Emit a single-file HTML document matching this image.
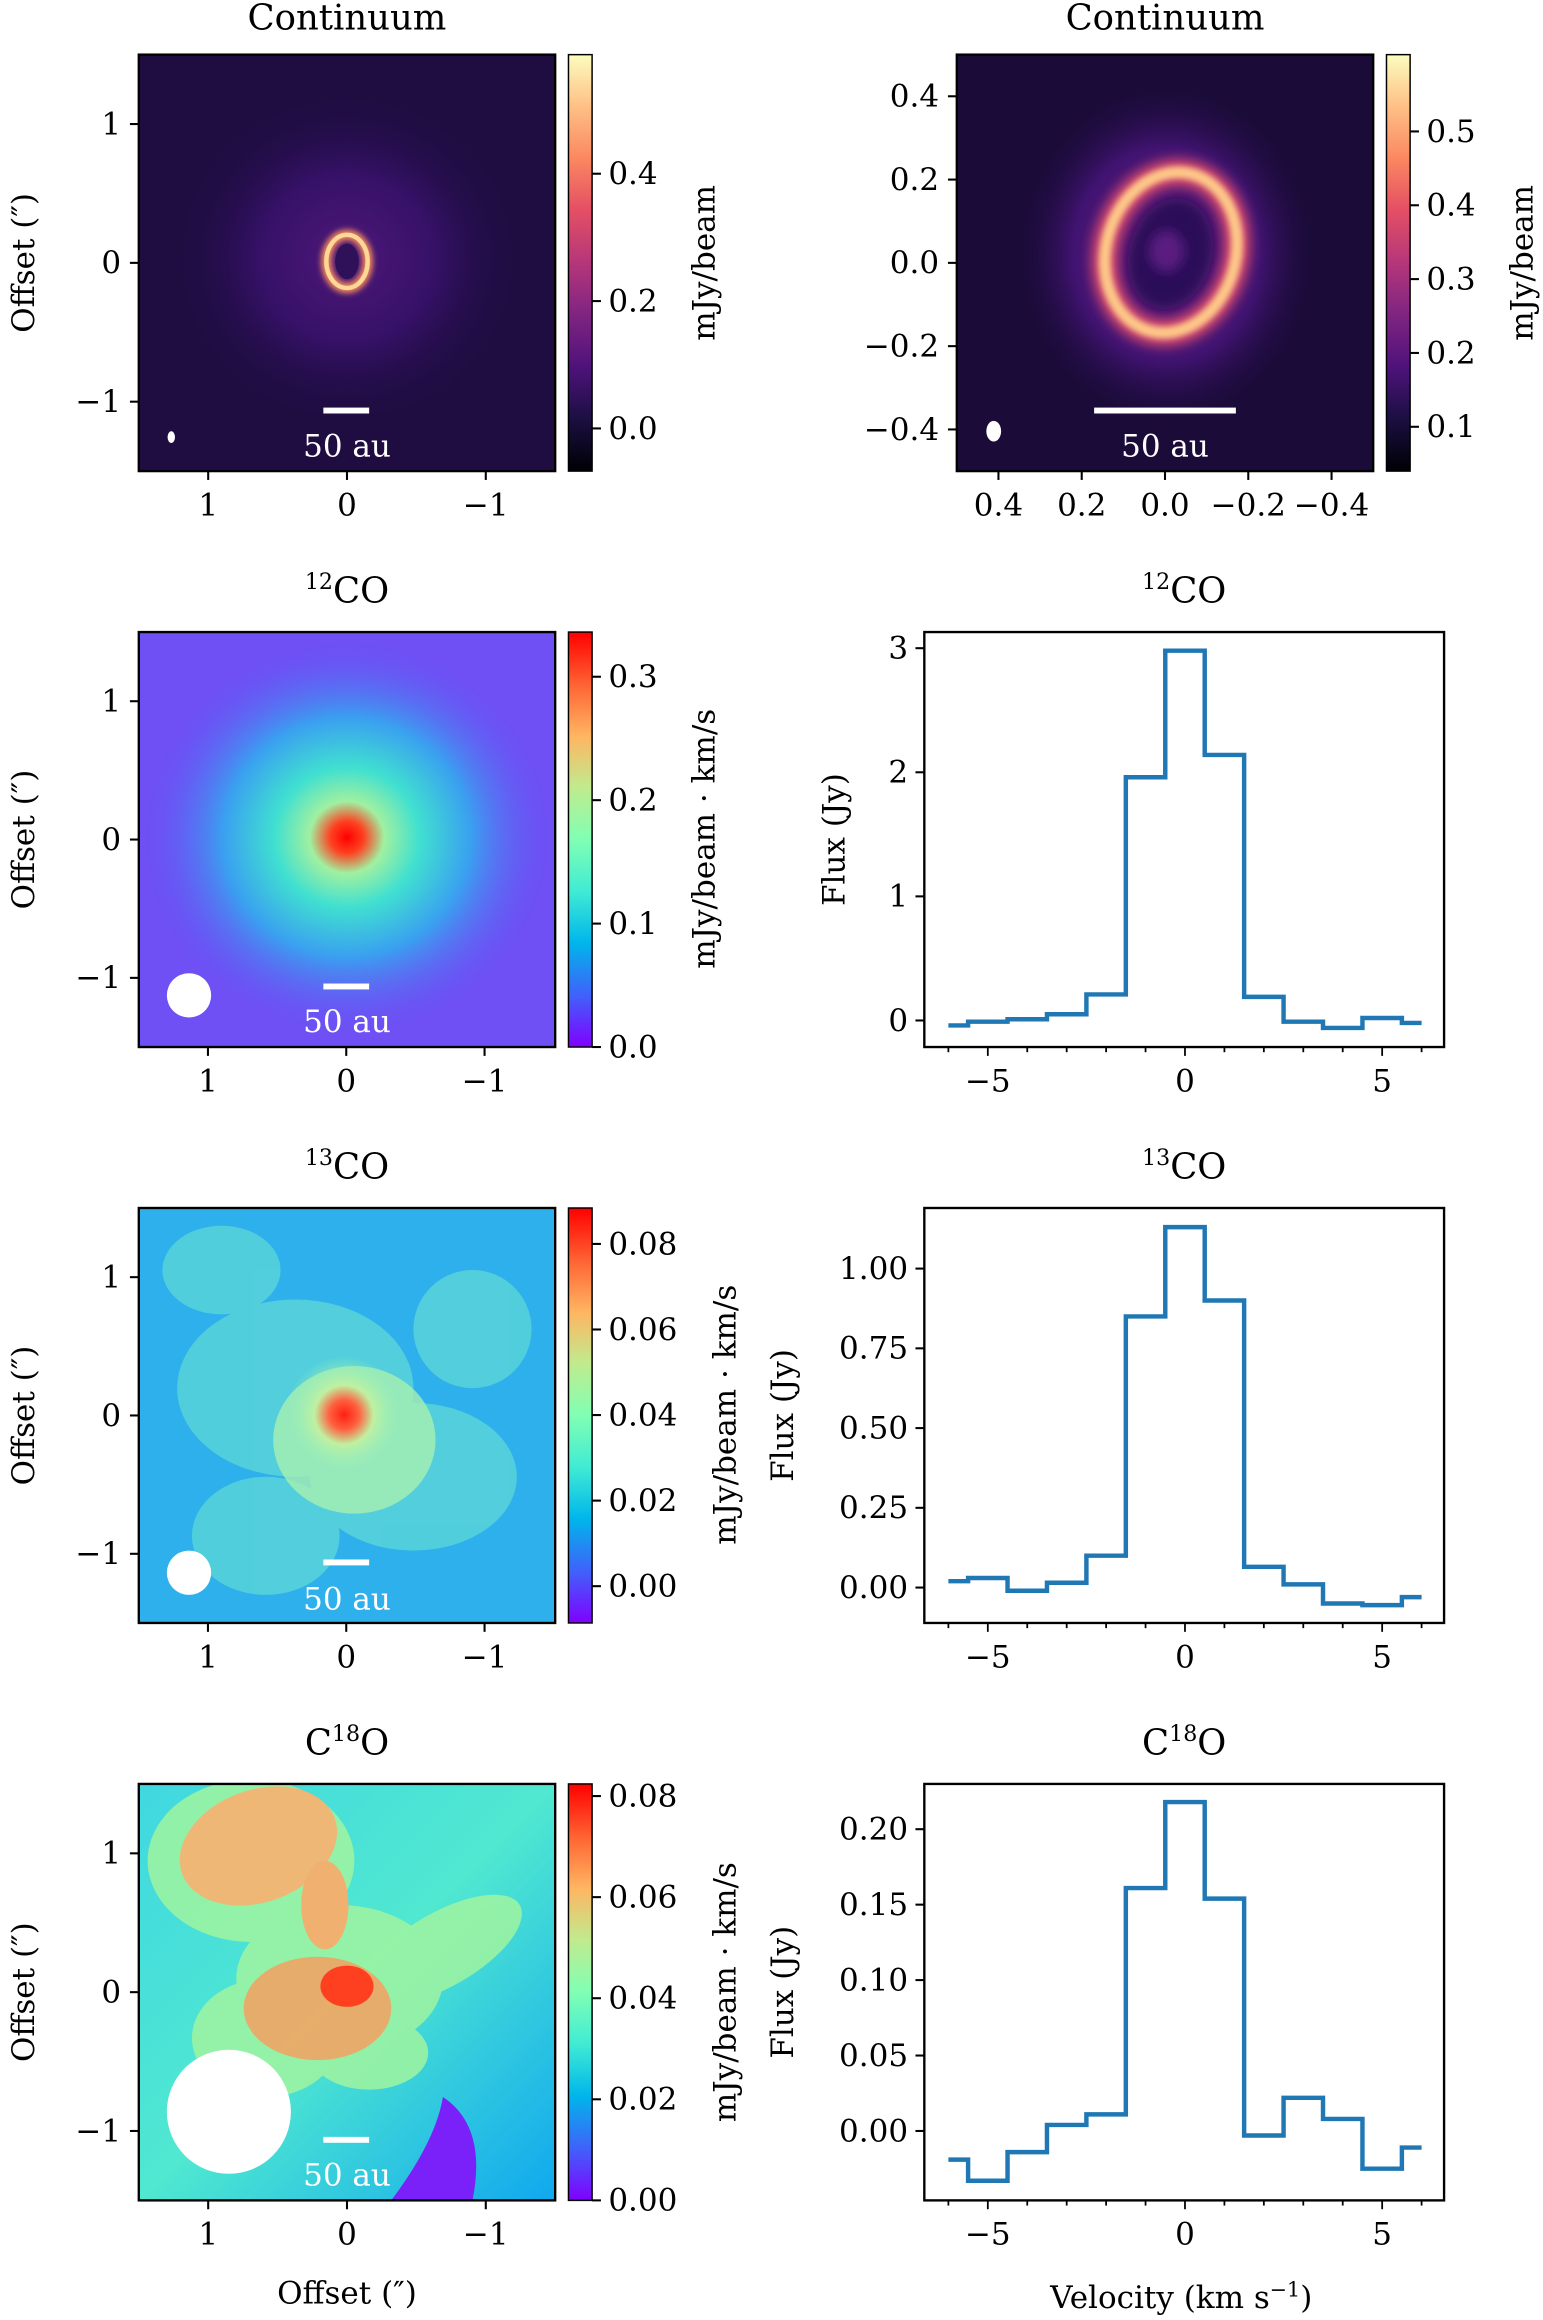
<!DOCTYPE html>
<html><head><meta charset="utf-8">
<style>
html,body{margin:0;padding:0;background:#fff;}
svg{display:block;}
text{font-family:"DejaVu Serif","Liberation Serif",serif;fill:#000;}
.tk{font-size:21px;}
.ttl{font-size:24px;}
.lab{font-size:21px;}
</style></head>
<body>
<svg id="fig" width="1543" height="2320" viewBox="0 0 1045 1571" preserveAspectRatio="none" xmlns="http://www.w3.org/2000/svg">
<defs>
  <linearGradient id="magma" x1="0" y1="1" x2="0" y2="0">
    <stop offset="0" stop-color="#000004"/><stop offset=".13" stop-color="#1c1044"/><stop offset=".25" stop-color="#4f127b"/>
    <stop offset=".38" stop-color="#812581"/><stop offset=".5" stop-color="#b5367a"/><stop offset=".63" stop-color="#e55064"/>
    <stop offset=".75" stop-color="#fb8761"/><stop offset=".88" stop-color="#fec287"/><stop offset="1" stop-color="#fcfdbf"/>
  </linearGradient>
  <linearGradient id="rainbow" x1="0" y1="1" x2="0" y2="0">
    <stop offset="0" stop-color="#8000ff"/><stop offset=".125" stop-color="#4062fa"/><stop offset=".25" stop-color="#00b5eb"/>
    <stop offset=".375" stop-color="#40ebd4"/><stop offset=".5" stop-color="#80ffb4"/><stop offset=".625" stop-color="#c0eb8e"/>
    <stop offset=".75" stop-color="#ffb562"/><stop offset=".875" stop-color="#ff6232"/><stop offset="1" stop-color="#ff0000"/>
  </linearGradient>
  <radialGradient id="c1glow"><stop offset="0" stop-color="#5a1a88"/><stop offset=".5" stop-color="#3b1270"/><stop offset="1" stop-color="#1e0c40" stop-opacity="0"/></radialGradient>
  <radialGradient id="c2glow"><stop offset="0" stop-color="#7a2285"/><stop offset=".6" stop-color="#451478"/><stop offset="1" stop-color="#1a0b38" stop-opacity="0"/></radialGradient>
  <radialGradient id="co12g"><stop offset="0" stop-color="#ff0000"/><stop offset=".08" stop-color="#ff4020"/><stop offset=".18" stop-color="#a0f0a0"/><stop offset=".35" stop-color="#40e0d0"/><stop offset=".6" stop-color="#3aa0f0"/><stop offset="1" stop-color="#6a4cf6" stop-opacity="0"/></radialGradient>
  <radialGradient id="co13g"><stop offset="0" stop-color="#ff2010"/><stop offset=".25" stop-color="#ff6040"/><stop offset=".5" stop-color="#c0f0a0"/><stop offset="1" stop-color="#90f0c0" stop-opacity="0"/></radialGradient>
  <linearGradient id="c18bg" x1="0" y1="0" x2="1" y2="1"><stop offset="0" stop-color="#40d8e0"/><stop offset=".5" stop-color="#50e8d0"/><stop offset="1" stop-color="#10a8ee"/></linearGradient>
  <filter id="b2" x="-50%" y="-50%" width="200%" height="200%"><feGaussianBlur stdDeviation="2"/></filter>
  <filter id="b4" x="-50%" y="-50%" width="200%" height="200%"><feGaussianBlur stdDeviation="4"/></filter>
  <clipPath id="cp1"><rect x="94" y="37" width="282" height="282"/></clipPath>
  <clipPath id="cp2"><rect x="648" y="37" width="282" height="282"/></clipPath>
  <clipPath id="cp3"><rect x="94" y="428" width="282" height="281"/></clipPath>
  <clipPath id="cp4"><rect x="94" y="818" width="282" height="281"/></clipPath>
  <clipPath id="cp5"><rect x="94" y="1208" width="282" height="282"/></clipPath>
</defs>

<!-- Continuum 1 -->
<g>
<text class="ttl" x="235" y="20" text-anchor="middle">Continuum</text>
<g clip-path="url(#cp1)">
<rect x="94" y="37" width="282" height="282" fill="#1f0d42"/>
<ellipse cx="235" cy="175" rx="120" ry="115" fill="url(#c1glow)" opacity=".8"/>
<ellipse cx="235" cy="177" rx="14" ry="18" fill="none" stroke="#f48a5c" stroke-width="7" filter="url(#b2)"/>
<ellipse cx="235" cy="177" rx="14" ry="18" fill="none" stroke="#fdd896" stroke-width="3"/>
<ellipse cx="235" cy="177" rx="8" ry="12" fill="#2e1158"/>
<ellipse cx="116" cy="296" rx="2.5" ry="4" fill="#fff"/>
<rect x="219" y="276" width="31" height="4" fill="#fff"/>
<text x="235" y="309" text-anchor="middle" class="tk" style="fill:#fff">50 au</text>
</g>
<rect x="94" y="37" width="282" height="282" fill="none" stroke="#000" stroke-width="1.6"/>
</g>

<!-- Continuum 2 -->
<g>
<text class="ttl" x="789" y="20" text-anchor="middle">Continuum</text>
<g clip-path="url(#cp2)">
<rect x="648" y="37" width="282" height="282" fill="#1a0b38"/>
<ellipse cx="790" cy="172" rx="105" ry="120" fill="url(#c2glow)" opacity=".9"/>
<ellipse cx="793" cy="171" rx="44" ry="55" fill="none" stroke="#d84a6e" stroke-width="18" filter="url(#b4)" transform="rotate(15 793 171)"/>
<ellipse cx="793" cy="171" rx="44" ry="55" fill="none" stroke="#fdc888" stroke-width="8" filter="url(#b2)" transform="rotate(15 793 171)"/>
<ellipse cx="793" cy="172" rx="28" ry="38" fill="#2a0f58" filter="url(#b4)" transform="rotate(15 793 171)"/>
<ellipse cx="790" cy="170" rx="12" ry="14" fill="#5a1a80" filter="url(#b4)"/>
<ellipse cx="673" cy="292" rx="5" ry="7" fill="#fff"/>
<rect x="741" y="276" width="96" height="4" fill="#fff"/>
<text x="789" y="309" text-anchor="middle" class="tk" style="fill:#fff">50 au</text>
</g>
<rect x="648" y="37" width="282" height="282" fill="none" stroke="#000" stroke-width="1.6"/>
</g>

<!-- 12CO map -->
<g>
<text class="ttl" x="235" y="408" text-anchor="middle"><tspan font-size="15" dy="-9">12</tspan><tspan dy="9">CO</tspan></text>
<g clip-path="url(#cp3)">
<rect x="94" y="428" width="282" height="281" fill="#6e50f4"/>
<ellipse cx="235" cy="567" rx="140" ry="135" fill="url(#co12g)"/>
<circle cx="128" cy="674" r="15" fill="#fff"/>
<rect x="219" y="666" width="31" height="4" fill="#fff"/>
<text x="235" y="699" text-anchor="middle" class="tk" style="fill:#fff">50 au</text>
</g>
<rect x="94" y="428" width="282" height="281" fill="none" stroke="#000" stroke-width="1.6"/>
</g>

<!-- 13CO map -->
<g>
<text class="ttl" x="235" y="798" text-anchor="middle"><tspan font-size="15" dy="-9">13</tspan><tspan dy="9">CO</tspan></text>
<g clip-path="url(#cp4)">
<rect x="94" y="818" width="282" height="281" fill="#2eb0ec"/>
<g opacity=".55" fill="#70e8d0">
<ellipse cx="200" cy="940" rx="80" ry="60"/><ellipse cx="280" cy="1000" rx="70" ry="50"/><ellipse cx="150" cy="860" rx="40" ry="30"/>
<ellipse cx="320" cy="900" rx="40" ry="40"/><ellipse cx="180" cy="1040" rx="50" ry="40"/>
</g>
<ellipse cx="240" cy="975" rx="55" ry="50" fill="#a8f0b0" opacity=".8"/>
<ellipse cx="233" cy="958" rx="40" ry="40" fill="url(#co13g)"/>
<circle cx="128" cy="1065" r="15" fill="#fff"/>
<rect x="219" y="1056" width="31" height="4" fill="#fff"/>
<text x="235" y="1090" text-anchor="middle" class="tk" style="fill:#fff">50 au</text>
</g>
<rect x="94" y="818" width="282" height="281" fill="none" stroke="#000" stroke-width="1.6"/>
</g>

<!-- C18O map -->
<g>
<text class="ttl" x="235" y="1188" text-anchor="middle">C<tspan font-size="15" dy="-9">18</tspan><tspan dy="9">O</tspan></text>
<g clip-path="url(#cp5)">
<rect x="94" y="1208" width="282" height="282" fill="url(#c18bg)"/>
<g fill="#a0f5a0" opacity=".85">
<ellipse cx="170" cy="1260" rx="70" ry="55"/><ellipse cx="230" cy="1340" rx="70" ry="50"/><ellipse cx="300" cy="1320" rx="60" ry="25" transform="rotate(-30 300 1320)"/>
<ellipse cx="180" cy="1380" rx="50" ry="40"/><ellipse cx="250" cy="1390" rx="40" ry="25"/>
</g>
<ellipse cx="175" cy="1250" rx="55" ry="38" fill="#f8b070" opacity=".9" transform="rotate(-20 175 1250)"/>
<ellipse cx="220" cy="1290" rx="16" ry="30" fill="#f0b070"/>
<ellipse cx="215" cy="1360" rx="50" ry="35" fill="#f4a060" opacity=".85"/>
<ellipse cx="235" cy="1345" rx="18" ry="14" fill="#ff4020"/>
<path d="M300 1420 Q330 1440 320 1490 L265 1490 Q295 1450 300 1420Z" fill="#7a20f8"/>
<ellipse cx="155" cy="1430" rx="42" ry="42" fill="#fff"/>
<rect x="219" y="1447" width="31" height="4" fill="#fff"/>
<text x="235" y="1480" text-anchor="middle" class="tk" style="fill:#fff">50 au</text>
</g>
<rect x="94" y="1208" width="282" height="282" fill="none" stroke="#000" stroke-width="1.6"/>
</g>

<!-- colorbars -->
<rect x="385" y="37" width="16" height="282" fill="url(#magma)" stroke="#000" stroke-width="1"/>
<rect x="939" y="37" width="16" height="282" fill="url(#magma)" stroke="#000" stroke-width="1"/>
<rect x="385" y="428" width="16" height="281" fill="url(#rainbow)" stroke="#000" stroke-width="1"/>
<rect x="385" y="818" width="16" height="281" fill="url(#rainbow)" stroke="#000" stroke-width="1"/>
<rect x="385" y="1208" width="16" height="282" fill="url(#rainbow)" stroke="#000" stroke-width="1"/>

<text class="lab" transform="translate(484 178) rotate(-90)" text-anchor="middle">mJy/beam</text>
<text class="lab" transform="translate(1038 178) rotate(-90)" text-anchor="middle">mJy/beam</text>
<text class="lab" transform="translate(484 568) rotate(-90)" text-anchor="middle">mJy/beam · km/s</text>
<text class="lab" transform="translate(498 958) rotate(-90)" text-anchor="middle">mJy/beam · km/s</text>
<text class="lab" transform="translate(498 1349) rotate(-90)" text-anchor="middle">mJy/beam · km/s</text>

<g id="axes"></g>
<g id="spectra"></g>

<text class="lab" x="235" y="1560" text-anchor="middle">Offset (″)</text>
<text class="lab" x="800" y="1563" text-anchor="middle">Velocity (km s<tspan font-size="14" dy="-8">−1</tspan><tspan dy="8">)</tspan></text>
</svg>

<script>
const NS = "http://www.w3.org/2000/svg";
const velocities = [-6,-5,-4,-3,-2,-1,0,1,2,3,4,5,6];
const flux12 = [-0.04,-0.01,0.01,0.05,0.21,1.96,2.98,2.14,0.19,-0.01,-0.06,0.02,-0.02];
const flux13 = [0.02,0.03,-0.01,0.015,0.10,0.85,1.13,0.90,0.065,0.01,-0.05,-0.055,-0.03];
const flux18 = [-0.019,-0.033,-0.014,0.004,0.011,0.161,0.218,0.154,-0.003,0.022,0.008,-0.025,-0.011];
const ticks12 = ["0","1","2","3"];
const ticks13 = ["0.00","0.25","0.50","0.75","1.00"];
const ticks18 = ["0.00","0.05","0.10","0.15","0.20"];
const velTicks = ["−5","0","5"];
const offTicks = ["1","0","−1"];
const contZoomTicks = ["0.4","0.2","0.0","−0.2","−0.4"];
const cbCont1 = ["0.0","0.2","0.4"];
const cbCont2 = ["0.1","0.2","0.3","0.4","0.5"];
const cbCO12 = ["0.0","0.1","0.2","0.3"];
const cbCO13 = ["0.00","0.02","0.04","0.06","0.08"];
const cbC18 = ["0.00","0.02","0.04","0.06","0.08"];

const axesG = document.getElementById('axes');
const specG = document.getElementById('spectra');
function mk(tag, attrs, parent){const e=document.createElementNS(NS,tag);for(const k in attrs)e.setAttribute(k,attrs[k]);parent.appendChild(e);return e;}
function txt(x,y,s,anchor,parent){const t=mk('text',{x:x,y:y,'text-anchor':anchor,class:'tk'},parent);t.textContent=s;return t;}
function num(s){return parseFloat(s.replace('−','-'));}

function imgAxes(x0,y0,size,xt,yt,xmin,xmax,ymin,ymax,ylabel){
  const sx=v=>x0+(xmax-v)/(xmax-xmin)*size;
  const sy=v=>y0+(ymax-v)/(ymax-ymin)*size;
  xt.forEach(s=>{const v=num(s),x=sx(v);
    mk('line',{x1:x,x2:x,y1:y0+size,y2:y0+size+6,stroke:'#000','stroke-width':1.4},axesG);
    const t=txt(x,y0+size+30,s,'middle',axesG);
    
    });
  yt.forEach(s=>{const v=num(s),y=sy(v);
    mk('line',{x1:x0-6,x2:x0,y1:y,y2:y,stroke:'#000','stroke-width':1.4},axesG);
    const t=txt(x0-12,y+7,s,'end',axesG);
    
    });
  if(ylabel){const t=mk('text',{transform:`translate(${x0-71} ${y0+size/2}) rotate(-90)`,'text-anchor':'middle',class:'lab'},axesG);t.textContent=ylabel;
    
    }
}
imgAxes(94,37,282,offTicks,offTicks,-1.5,1.5,-1.5,1.5,'Offset (″)');
imgAxes(94,428,281,offTicks,offTicks,-1.5,1.5,-1.5,1.5,'Offset (″)');
imgAxes(94,818,281,offTicks,offTicks,-1.5,1.5,-1.5,1.5,'Offset (″)');
imgAxes(94,1208,282,offTicks,offTicks,-1.5,1.5,-1.5,1.5,'Offset (″)');
imgAxes(648,37,282,contZoomTicks,contZoomTicks,-0.5,0.5,-0.5,0.5,null);

function cbTicks(x0,y0,h,labels,vmin,vmax){
  labels.forEach(s=>{const v=num(s),y=y0+(vmax-v)/(vmax-vmin)*h;
    mk('line',{x1:x0+16,x2:x0+22,y1:y,y2:y,stroke:'#000','stroke-width':1.4},axesG);
    const t=txt(x0+27,y+7,s,'start',axesG);
    
    });
}
cbTicks(385,37,282,cbCont1,-0.067,0.587);
cbTicks(939,37,282,cbCont2,0.04,0.604);
cbTicks(385,428,281,cbCO12,0.0,0.3362);
cbTicks(385,818,281,cbCO13,-0.0086,0.0884);
cbTicks(385,1208,282,cbC18,0.0,0.0824);

function spectrum(y0,h,vals,yt,ymin,ymax,name,title,ylabX){
  const x0=626,w=352,xmin=-6.61,xmax=6.57;
  const sx=v=>x0+(v-xmin)/(xmax-xmin)*w;
  const sy=v=>y0+(ymax-v)/(ymax-ymin)*h;
  const g=mk('g',{},specG);
  
  
  mk('rect',{x:x0,y:y0,width:w,height:h,fill:'none',stroke:'#000','stroke-width':1.6},g);
  for(let v=-6;v<=6;v++){const x=sx(v),major=(v%5===0);
    mk('line',{x1:x,x2:x,y1:y0+h,y2:y0+h+(major?6:3.5),stroke:'#000','stroke-width':1.2},g);}
  velTicks.forEach(s=>{const t=txt(sx(num(s)),y0+h+30,s,'middle',g);
    
    });
  yt.forEach(s=>{const y=sy(num(s));
    mk('line',{x1:x0-6,x2:x0,y1:y,y2:y,stroke:'#000','stroke-width':1.4},g);
    const t=txt(x0-11,y+7,s,'end',g);
    
    });
  let d='';
  for(let i=0;i<velocities.length;i++){
    const xl = i===0?sx(velocities[0]):sx((velocities[i-1]+velocities[i])/2);
    const xr = i===velocities.length-1?sx(velocities[i]):sx((velocities[i]+velocities[i+1])/2);
    const y=sy(vals[i]);
    d += (i===0?'M':'L')+xl+' '+y+' L'+xr+' '+y+' ';
  }
  const p=mk('path',{d:d,fill:'none',stroke:'#1f77b4','stroke-width':3,'stroke-linejoin':'miter'},g);
  
  
  const tt=mk('text',{x:802,y:y0-20,'text-anchor':'middle',class:'ttl'},g);
  tt.innerHTML=title;
  const yl=mk('text',{transform:`translate(${ylabX} ${y0+h/2}) rotate(-90)`,'text-anchor':'middle',class:'lab'},g);
  yl.textContent='Flux (Jy)';
}
spectrum(428,281,flux12,ticks12,-0.214,3.13,'co12-spectrum','<tspan font-size="15" dy="-9">12</tspan><tspan dy="9">CO</tspan>',572);
spectrum(818,281,flux13,ticks13,-0.111,1.19,'co13-spectrum','<tspan font-size="15" dy="-9">13</tspan><tspan dy="9">CO</tspan>',537);
spectrum(1208,282,flux18,ticks18,-0.046,0.230,'c18o-spectrum','C<tspan font-size="15" dy="-9">18</tspan><tspan dy="9">O</tspan>',537);
</script>
</body></html>
